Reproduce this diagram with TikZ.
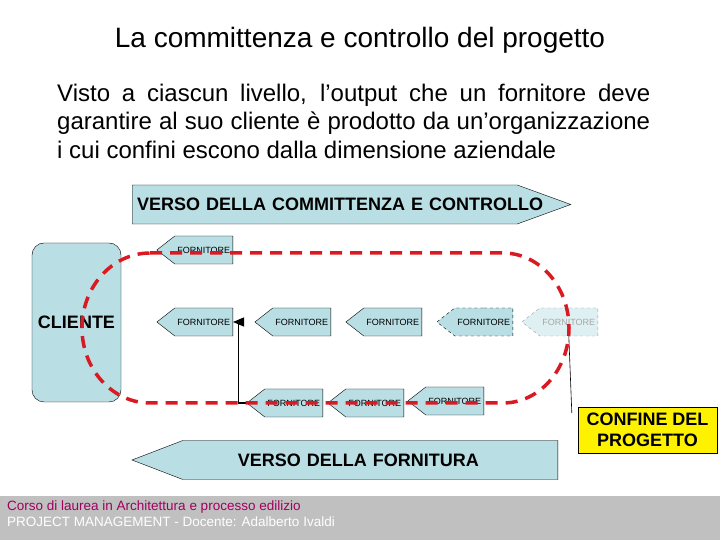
\documentclass[tikz,border=0pt]{standalone}
\usepackage{fontspec}
\setmainfont{Liberation Sans}
\usepackage{tikz}
\usetikzlibrary{shapes.symbols, arrows}

\definecolor{boxblue}{RGB}{185,222,228}
\definecolor{loopred}{RGB}{218,26,34}
\definecolor{footgray}{RGB}{192,192,192}
\definecolor{footpink}{RGB}{160,0,96}

\begin{document}
\begin{tikzpicture}[x=1pt, y=1pt, >=triangle 45,
    forn/.style={signal, signal to=west, signal pointer angle=76, draw, fill=boxblue,
        inner xsep=0pt, inner ysep=0pt, minimum height=28pt, text width=58pt, align=center,
        font=\fontsize{9}{11}\selectfont, anchor=east},
    verso/.style={signal, draw, fill=boxblue, minimum height=39pt, inner xsep=5pt,
        font=\fontsize{18}{21}\selectfont\bfseries},
    boundary/.style={draw=loopred, line width=3.5pt, dash pattern=on 12pt off 8pt}]
    \useasboundingbox (0,0) rectangle (720,540);

    % titolo e testo
    \node[anchor=base, font=\fontsize{28}{34}\selectfont] (title) at (360,492) {La committenza e controllo del progetto};
    \node[anchor=north west, inner sep=0pt, align=left, font=\fontsize{24}{28.8}\selectfont] (testo) at (57,456.5)
        {\makebox[593pt][s]{Visto a ciascun livello, l’output che un fornitore deve}\\
         \makebox[593pt][s]{garantire al suo cliente è prodotto da un’organizzazione}\\
         i cui confini escono dalla dimensione aziendale};

    % frecce di verso
    \node[verso, signal to=east, signal pointer angle=40, text width=375pt, align=left, anchor=west] (committenza) at (132,335.5)
        {\mbox{VERSO DELLA COMMITTENZA E CONTROLLO}};
    \node[verso, signal to=west, signal pointer angle=42, text width=365pt, align=center, anchor=east] (fornitura) at (558,80)
        {\hspace*{-24pt}VERSO DELLA FORNITURA};

    % cliente e fornitori
    \node[draw, fill=boxblue, rounded corners=12pt, minimum width=89pt, minimum height=159pt,
        font=\fontsize{18}{21}\selectfont\bfseries] (cliente) at (76.5,217.5) {CLIENTE};
    \node[forn] (f1) at (233,290) {FORNITORE};
    \node[forn] (f2) at (233,218) {FORNITORE};
    \node[forn] (f3) at (331,218) {FORNITORE};
    \node[forn] (f4) at (422,218) {FORNITORE};
    \node[forn, dashed] (f5) at (513,218) {FORNITORE};
    \node[forn, dashed, draw=gray!80, fill=boxblue!45, text=gray!70] (f6) at (598,218) {FORNITORE};
    \node[forn] (f7) at (323,137) {FORNITORE};
    \node[forn] (f8) at (404,137) {FORNITORE};
    \node[forn] (f9) at (484,139) {FORNITORE};

    \node[draw, fill=yellow, minimum width=139pt, minimum height=46pt, align=center,
        font=\fontsize{18}{21}\selectfont\bfseries] (confine) at (647.5,110) {CONFINE DEL\\PROGETTO};

    \draw[->, line width=1.6pt] (f7.west) -- ++(-8,0) |- (f2.east);
    \draw[line width=0.6pt] (f6.south) -- ([xshift=-6pt,yshift=-6pt]confine.north west);

    % confine del progetto
    \draw[boundary] (150,287) -- (503,287) arc[start angle=90, end angle=-90, x radius=66, y radius=75]
        -- (150,137) arc[start angle=270, end angle=90, x radius=68, y radius=75] -- cycle;

    % pie di pagina
    \fill[footgray] (0,0) rectangle (720,44);
    \node[anchor=north west, inner sep=0pt, align=left, font=\fontsize{13.5}{15.5}\selectfont] (footer) at (7,39)
        {\textcolor{footpink}{Corso di laurea in Architettura e processo edilizio}\\
         \textcolor{white}{PROJECT MANAGEMENT - Docente: Adalberto Ivaldi}};
\end{tikzpicture}
\end{document}
